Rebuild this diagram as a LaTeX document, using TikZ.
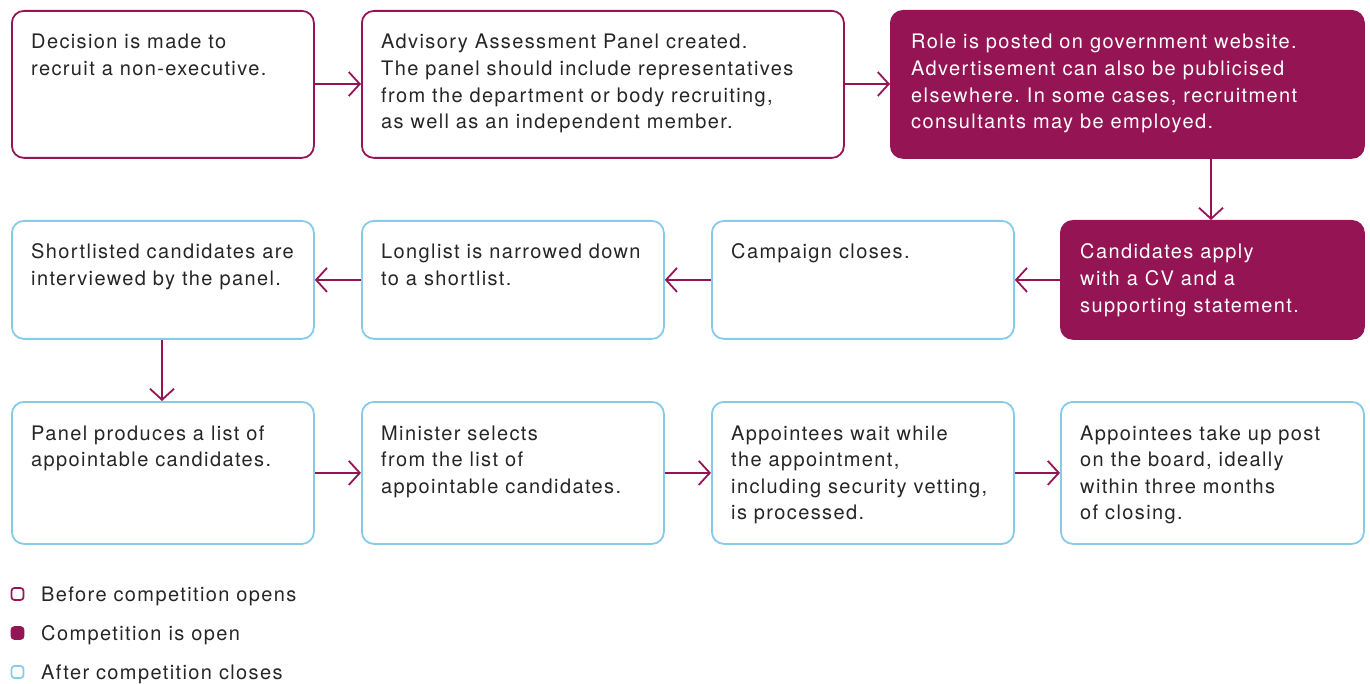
\documentclass[tikz,border=0pt]{standalone}
\usepackage{fontspec}
\setmainfont{TeX Gyre Heros}[LetterSpace=6.9]
\usetikzlibrary{arrows.meta,calc}
\definecolor{plum}{HTML}{951554}
\definecolor{sky}{HTML}{86CBE8}
\definecolor{ink}{HTML}{262626}
\frenchspacing
% multi-line text whose baseline is that of its first line
\newcommand{\boxlines}[1]{\parbox[t]{440pt}{\raggedright #1}}
\begin{document}
\begin{tikzpicture}[x=1pt,y=-1pt,
  box/.style={draw, line width=1.8pt, rounded corners=12pt, anchor=north west, inner sep=0pt},
  before/.style={box, draw=plum, fill=white},
  open/.style={box, draw=plum, fill=plum},
  after/.style={box, draw=sky, fill=white},
  txt/.style={anchor=base west, inner sep=0pt, text=ink,
    font=\fontsize{20}{26.6}\selectfont},
  wtxt/.style={txt, text=white},
  flow/.style={draw=plum, line width=1.8pt, -{Straight Barb[length=11pt,width=24pt,line width=1.8pt]}},
  key/.style={draw, line width=1.7pt, rounded corners=3pt, minimum size=12pt, inner sep=0pt},
  keytxt/.style={anchor=base west, inner sep=0pt, text=ink, font=\fontsize{20}{24}\selectfont}]
\useasboundingbox (0,0) rectangle (1370,684);
% row 1
\node[before, minimum width=302pt, minimum height=147pt] (b1) at (11,10) {};
\node[before, minimum width=482pt, minimum height=147pt] (b2) at (361,10) {};
\node[open,   minimum width=473pt, minimum height=147pt] (b3) at (890,10) {};
% row 2
\node[after, minimum width=302pt, minimum height=118pt] (c1) at (11,220) {};
\node[after, minimum width=302pt, minimum height=118pt] (c2) at (361,220) {};
\node[after, minimum width=302pt, minimum height=118pt] (c3) at (711,220) {};
\node[open,  minimum width=303pt, minimum height=118pt] (c4) at (1060,220) {};
% row 3
\node[after, minimum width=302pt, minimum height=142pt] (d1) at (11,401) {};
\node[after, minimum width=302pt, minimum height=142pt] (d2) at (361,401) {};
\node[after, minimum width=302pt, minimum height=142pt] (d3) at (711,401) {};
\node[after, minimum width=303pt, minimum height=142pt] (d4) at (1060,401) {};
% texts
\node[txt]  (b1t) at ($(b1.north west)+(20,39)$) {\boxlines{Decision is made to\\recruit a non-executive.}};
\node[txt]  (b2t) at ($(b2.north west)+(20,39)$) {\boxlines{Advisory Assessment Panel created.\\The panel should include representatives\\from the department or body recruiting,\\as well as an independent member.}};
\node[wtxt] (b3t) at ($(b3.north west)+(21,39)$) {\boxlines{Role is posted on government website.\\Advertisement can also be publicised\\elsewhere. In some cases, recruitment\\consultants may be employed.}};
\node[txt]  (c1t) at ($(c1.north west)+(20,39)$) {\boxlines{Shortlisted candidates are\\interviewed by the panel.}};
\node[txt]  (c2t) at ($(c2.north west)+(20,39)$) {\boxlines{Longlist is narrowed down\\to a shortlist.}};
\node[txt]  (c3t) at ($(c3.north west)+(20,39)$) {\boxlines{Campaign closes.}};
\node[wtxt] (c4t) at ($(c4.north west)+(20,39)$) {\boxlines{Candidates apply\\with a CV and a\\supporting statement.}};
\node[txt]  (d1t) at ($(d1.north west)+(20,39)$) {\boxlines{Panel produces a list of\\appointable candidates.}};
\node[txt]  (d2t) at ($(d2.north west)+(20,39)$) {\boxlines{Minister selects\\from the list of\\appointable candidates.}};
\node[txt]  (d3t) at ($(d3.north west)+(20,39)$) {\boxlines{Appointees wait while\\the appointment,\\including security vetting,\\is processed.}};
\node[txt]  (d4t) at ($(d4.north west)+(20,39)$) {\boxlines{Appointees take up post\\on the board, ideally\\within three months\\of closing.}};
% connectors
\draw[flow] ($(b1.north east)+(0,74)$) -- ($(b2.north west)+(0,74)$);
\draw[flow] ($(b2.north east)+(0,74)$) -- ($(b3.north west)+(0,74)$);
\draw[flow] ($(b3.south west)+(321,0)$) -- ($(c4.north west)+(151,0)$);
\draw[flow] (c4.west) -- (c3.east);
\draw[flow] (c3.west) -- (c2.east);
\draw[flow] (c2.west) -- (c1.east);
\draw[flow] ($(c1.south west)+(151,0)$) -- ($(d1.north west)+(151,0)$);
\draw[flow] (d1.east) -- (d2.west);
\draw[flow] (d2.east) -- (d3.west);
\draw[flow] (d3.east) -- (d4.west);
% legend
\node[key, draw=plum, fill=white] (k1) at (17.5,594) {};
\node[key, draw=plum, fill=plum]  (k2) at (17.5,633) {};
\node[key, draw=sky, fill=white]  (k3) at (17.5,672) {};
\node[keytxt] (k1t) at (41,601) {Before competition opens};
\node[keytxt] (k2t) at (41,640) {Competition is open};
\node[keytxt] (k3t) at (41,679) {After competition closes};
\end{tikzpicture}
\end{document}
